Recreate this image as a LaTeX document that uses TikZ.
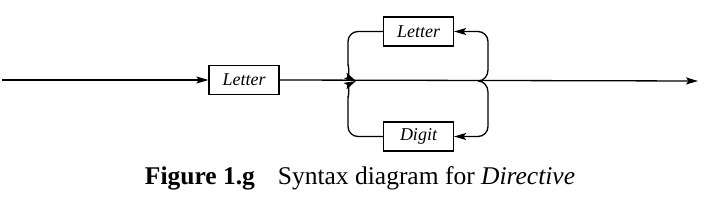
\documentclass[tikz,border=0pt]{standalone}
\usepackage{fontspec}
\setmainfont{Liberation Serif}
\usetikzlibrary{arrows.meta}
\begin{document}
\begin{tikzpicture}[x=1pt,y=-1pt,
  line width=1.3pt,
  arr/.style={-{Stealth[length=12pt,width=7pt,inset=2.5pt]}},
  box/.style={draw,line width=1.2pt,minimum width=70pt,minimum height=29pt,inner sep=0pt,
    font=\fontsize{18}{18}\selectfont\itshape}]
\useasboundingbox (0,0) rectangle (713,203);
\coordinate (s) at (2,80);
\coordinate (e) at (698,81);
\coordinate (jl) at (356,81);
\coordinate (jr) at (478,81);
\node[box] (L1) at (244,80) {Letter};
\node[box] (U) at (418.5,31.5) {Letter};
\node[box] (D) at (418.5,136.5) {Digit};
\draw[arr] (s) -- (L1.west);
\draw[arr] (L1.east) -- (e);
% upper loop
\draw[arr] (jr) to[out=0,in=-90] (488,70) -- (488,41.5) arc[start angle=0,end angle=-90,radius=10] -- (U.east);
\draw[arr] (U.west) -- (358,31.5) arc[start angle=-90,end angle=-180,radius=10] -- (348,66) to[out=90,in=155] (jl);
% lower loop
\draw[arr] (jr) to[out=0,in=90] (488,92) -- (488,126.5) arc[start angle=0,end angle=90,radius=10] -- (D.east);
\draw[arr] (D.west) -- (358,136.5) arc[start angle=90,end angle=180,radius=10] -- (348,96) to[out=-90,in=-155] (jl);
\node[anchor=base,font=\fontsize{25.5}{25.5}\selectfont] (cap) at (360,185)
  {\textbf{Figure 1.g}\hspace{0.9em}Syntax diagram for \textit{Directive}};
\end{tikzpicture}
\end{document}
